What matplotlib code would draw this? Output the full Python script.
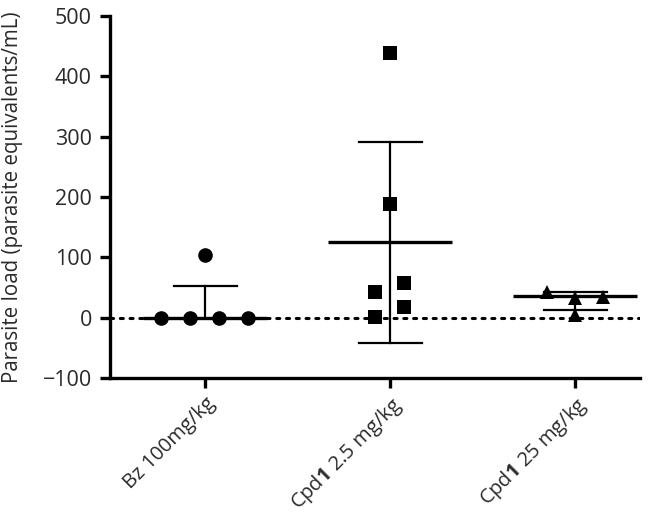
import matplotlib
matplotlib.use('Agg')
import matplotlib.pyplot as plt

plt.rcParams['font.family'] = ['Open Sans', 'DejaVu Sans']
plt.rcParams['mathtext.fontset'] = 'custom'
plt.rcParams['mathtext.rm'] = 'Open Sans'
plt.rcParams['mathtext.bf'] = 'Open Sans:bold'

# Group labels
groups = ['Bz 100mg/kg', r'Cpd$\mathbf{1}$ 2.5 mg/kg', r'Cpd$\mathbf{1}$ 25 mg/kg']

# Individual animals (parasite equivalents/mL)
bz_vals = [0, 0, 0, 0, 104]
cpd_low_vals = [438, 188, 58, 17, 42, 1]
cpd_high_vals = [42, 32, 34, 4]

# Horizontal jitter of points within each group
bz_off = [-0.24, -0.08, 0.076, 0.23, 0.0]
cpd_low_off = [0.0, 0.0, 0.076, 0.076, -0.08, -0.08]
cpd_high_off = [-0.15, 0.0, 0.15, 0.0]

# Mean line and error bar ends as drawn
means = [0, 125, 36]
err_hi = [53, 291, 43]
err_lo = [0, -42, 13]

fig = plt.figure(figsize=(6.69, 5.14), dpi=100)
ax = fig.add_axes([0.1644, 0.2646, 0.7925, 0.7043])

ax.axhline(0, color='black', linestyle=(0, (1, 2.2)), linewidth=2.2,
           dash_capstyle='round', zorder=1)

markers = ['o', 's', '^']
sizes = [10.5, 10, 10.5]
all_vals = [bz_vals, cpd_low_vals, cpd_high_vals]
all_off = [bz_off, cpd_low_off, cpd_high_off]
for i, (vals, offs) in enumerate(zip(all_vals, all_off)):
    xs = [i + o for o in offs]
    ax.plot(xs, vals, linestyle='none', marker=markers[i], markersize=sizes[i],
            color='black', markeredgewidth=0, zorder=3)
    # mean
    ax.plot([i - 0.335, i + 0.335], [means[i], means[i]], color='black',
            linewidth=2.4, solid_capstyle='butt', zorder=2)
    # error bar
    ax.plot([i, i], [err_lo[i], err_hi[i]], color='black', linewidth=1.6, zorder=2)
    ax.plot([i - 0.17, i + 0.17], [err_hi[i], err_hi[i]], color='black',
            linewidth=1.6, zorder=2)
    if err_lo[i] != means[i]:
        ax.plot([i - 0.17, i + 0.17], [err_lo[i], err_lo[i]], color='black',
                linewidth=1.6, zorder=2)

ax.set_xlim(-0.514, 2.351)
ax.set_ylim(-100, 500)
ax.set_yticks([-100, 0, 100, 200, 300, 400, 500])
ax.set_yticklabels(['\u2212100', '0', '100', '200', '300', '400', '500'])
ax.set_xticks([0, 1, 2])
ax.set_xticklabels(groups, rotation=45, ha='right', va='top',
                   rotation_mode='anchor')

for side in ['top', 'right']:
    ax.spines[side].set_visible(False)
for side in ['left', 'bottom']:
    ax.spines[side].set_linewidth(2.4)
ax.tick_params(axis='y', width=2.4, length=7, labelsize=15.5, color='black',
               labelcolor='#2a2a2a', pad=6)
ax.tick_params(axis='x', width=2.4, length=7, labelsize=14.5, color='black',
               labelcolor='#2a2a2a', pad=4)
ax.set_ylabel('Parasite load (parasite equivalents/mL)', fontsize=14.8,
              color='#2a2a2a')
ax.yaxis.set_label_coords(-0.165, 0.5)

plt.savefig('out.png', dpi=100)
